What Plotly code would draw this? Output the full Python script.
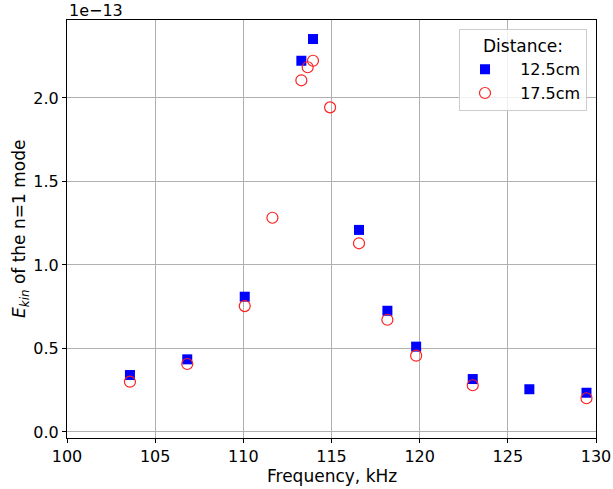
import plotly.graph_objects as go

# Frequencies (kHz) and kinetic energy (units of 1e-13)
freq_125 = [103.57, 106.82, 110.08, 113.29, 113.95, 116.56, 118.17, 119.8, 123.01, 126.22, 129.46]
ekin_125 = [0.341, 0.435, 0.81, 2.223, 2.353, 1.21, 0.726, 0.511, 0.317, 0.256, 0.235]

freq_175 = [103.57, 106.82, 110.08, 111.65, 113.29, 113.65, 113.95, 114.92, 116.56, 118.17, 119.8, 123.01, 129.46]
ekin_175 = [0.301, 0.407, 0.754, 1.283, 2.106, 2.184, 2.223, 1.944, 1.13, 0.672, 0.457, 0.28, 0.202]

x_ticks = [100, 105, 110, 115, 120, 125, 130]
y_ticks = [0.0, 0.5, 1.0, 1.5, 2.0]

FONT = "DejaVu Sans"
PAD = "\u00a0\u00a0"

fig = go.Figure()
fig.add_trace(go.Scatter(
    x=freq_125, y=ekin_125, mode="markers", name=PAD + "12.5cm",
    marker=dict(symbol="square", size=10, color="blue", line=dict(width=0)),
))
fig.add_trace(go.Scatter(
    x=freq_175, y=ekin_175, mode="markers", name=PAD + "17.5cm",
    marker=dict(symbol="circle-open", size=11, color="#ff2020", line=dict(width=1.2, color="#ff2020")),
))

axis_common = dict(
    showgrid=True, gridcolor="#b0b0b0", gridwidth=1,
    showline=True, linecolor="black", linewidth=1, mirror=True,
    ticks="outside", ticklen=4, tickcolor="black", tickwidth=1,
    zeroline=False, automargin=False,
    tickfont=dict(family=FONT, size=16, color="black"),
)

fig.update_layout(
    width=613, height=489,
    margin=dict(l=67, r=17, t=20, b=51),
    plot_bgcolor="white", paper_bgcolor="white",
    font=dict(family=FONT, size=16, color="black"),
    xaxis=dict(range=[100, 130], tickvals=x_ticks, ticktext=[str(v) for v in x_ticks],
               **axis_common),
    yaxis=dict(range=[-0.036, 2.467], tickvals=y_ticks, ticktext=[f"{v:.1f}" for v in y_ticks],
               **axis_common),
    legend=dict(
        title=dict(text="Distance:", side="top center", font=dict(family=FONT, size=17)),
        x=0.983, y=0.978, xanchor="right", yanchor="top",
        bgcolor="rgba(255,255,255,0.8)", bordercolor="#cccccc", borderwidth=1,
        font=dict(family=FONT, size=16), itemwidth=40,
    ),
    showlegend=True,
)

fig.add_annotation(
    text="1e\u221213", xref="paper", yref="paper", x=0, y=1, xanchor="left", yanchor="bottom",
    showarrow=False, font=dict(family=FONT, size=16, color="black"), yshift=-2,
)
fig.add_annotation(
    text="Frequency, kHz", xref="paper", yref="paper", x=0.5, y=0, xanchor="center", yanchor="top",
    showarrow=False, font=dict(family=FONT, size=17, color="black"), yshift=-26,
)
fig.add_annotation(
    text="<i>E</i><sub><i>kin</i></sub> of the n=1 mode", xref="paper", yref="paper", x=0, y=0.5,
    xanchor="center", yanchor="middle", textangle=-90,
    showarrow=False, font=dict(family=FONT, size=17, color="black"), xshift=-47,
)

fig.write_html("out.html")
